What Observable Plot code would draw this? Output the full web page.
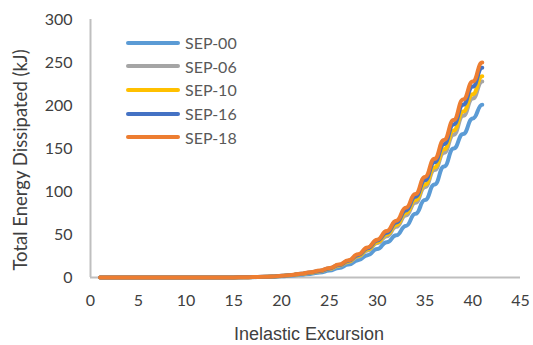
<!DOCTYPE html>
<html><head>
<meta charset="utf-8">
<script src="https://cdn.jsdelivr.net/npm/d3@7"></script>
<script src="https://cdn.jsdelivr.net/npm/@observablehq/plot@0.6"></script>
<style>
body{margin:0;background:#fff}
#wrap{position:relative;width:533px;height:345px;font-family:Lato,"Liberation Sans",sans-serif;color:#404040}
.ttl{position:absolute;color:#404040;white-space:nowrap}
#legend{position:absolute;left:126px;top:31px}
.lg{display:flex;align-items:center;height:23.6px;font-size:16px;color:#595959}
.sw{width:54px;height:4px;border-radius:2px;margin-right:5px}
</style>
</head><body>
<div id="wrap"></div>
<script>
const excursion = [1,2,3,4,5,6,7,8,9,10,11,12,13,14,15,16,17,18,19,20,21,22,23,24,25,26,27,28,29,30,31,32,33,34,35,36,37,38,39,40,41];
const seriesNames = ["SEP-00","SEP-06","SEP-10","SEP-16","SEP-18"];
const seriesColors = ["#5B9BD5","#A5A5A5","#FFC000","#4472C4","#ED7D31"];
const sep00 = [0,0,0,0,0,0,0,0,0,0,0,0,0,0,0,0.2,0.4,0.6,0.9,1.4,2.1,3.1,4.2,5.8,8,11,15,20,26,33,41,49,60,74,90,108,129,150,167,185,201];
const sep06 = [0,0,0,0,0,0,0,0,0,0,0,0,0,0,0,0.3,0.5,0.7,1.1,1.8,2.7,4.0,5.3,7.1,9.8,13.4,18,24,31.5,40,48,59,72,87,105,125,145,166,188,208,228];
const sep10 = [0,0,0,0,0,0,0,0,0,0,0,0,0,0,0,0.3,0.5,0.7,1.1,1.8,2.8,4.1,5.5,7.4,10.2,13.9,18.6,25,32.5,41,50,61,75,90,108,128,149,171,193,213,234];
const sep16 = [0,0,0,0,0,0,0,0,0,0,0,0,0,0,0,0.3,0.5,0.8,1.2,1.9,2.9,4.3,5.8,7.7,10.6,14.5,19.4,26,34,43,52,64,78,94,113,134,155,178,201,222,244];
const sep18 = [0,0,0,0,0,0,0,0,0,0,0,0,0,0,0,0.3,0.5,0.8,1.2,2,3,4.5,6,8,11,15,20,27,35,44,54,66,81,97,117,138,160,183,207,228,250];
const xTicks = [0,5,10,15,20,25,30,35,40,45];
const yTicks = [0,50,100,150,200,250,300];
const xTitle = "Inelastic Excursion";
const yTitle = "Total Energy Dissipated (kJ)";

const allSeries = [sep00, sep06, sep10, sep16, sep18];
const rows = allSeries.map((vals, i) => excursion.map((x, j) => ({x, y: vals[j], s: seriesNames[i]})));

const chart = Plot.plot({
  width: 533, height: 345,
  marginLeft: 90, marginRight: 13, marginTop: 19, marginBottom: 68,
  style: {fontFamily: "Lato, 'Liberation Sans', sans-serif", fontSize: "16px", color: "#404040", background: "#fff"},
  x: {domain: [0, 45]},
  y: {domain: [0, 300]},
  color: {domain: seriesNames, range: seriesColors},
  marks: [
    Plot.axisX({ticks: xTicks, tickSize: 0, tickPadding: 17, label: null, fontSize: 16}),
    Plot.axisY({ticks: yTicks, tickSize: 0, tickPadding: 18, label: null, fontSize: 16}),
    Plot.ruleY([0], {stroke: "#BFBFBF", strokeWidth: 2}),
    Plot.ruleX([0], {stroke: "#BFBFBF", strokeWidth: 2}),
    ...rows.map(r => Plot.line(r, {x: "x", y: "y", stroke: "s", curve: "bump-x", strokeWidth: 4, strokeLinecap: "round", strokeLinejoin: "round"}))
  ]
});
const wrap = document.getElementById("wrap");
wrap.appendChild(chart);

const xt = document.createElement("div");
xt.className = "ttl"; xt.textContent = xTitle;
xt.style.fontFamily = "'Liberation Sans', Arial, sans-serif"; xt.style.fontSize = "18px";
xt.style.left = "309px"; xt.style.top = "334px"; xt.style.transform = "translate(-50%,-50%)";
wrap.appendChild(xt);
const yt = document.createElement("div");
yt.className = "ttl"; yt.textContent = yTitle;
yt.style.fontSize = "18.5px";
yt.style.left = "20px"; yt.style.top = "160px"; yt.style.transform = "translate(-50%,-50%) rotate(-90deg)";
wrap.appendChild(yt);

const lg = document.createElement("div");
lg.id = "legend";
seriesNames.forEach((n, i) => {
  const row = document.createElement("div"); row.className = "lg";
  const sw = document.createElement("div"); sw.className = "sw"; sw.style.background = seriesColors[i];
  const t = document.createElement("span"); t.textContent = n;
  row.appendChild(sw); row.appendChild(t); lg.appendChild(row);
});
wrap.appendChild(lg);
</script>
</body></html>
